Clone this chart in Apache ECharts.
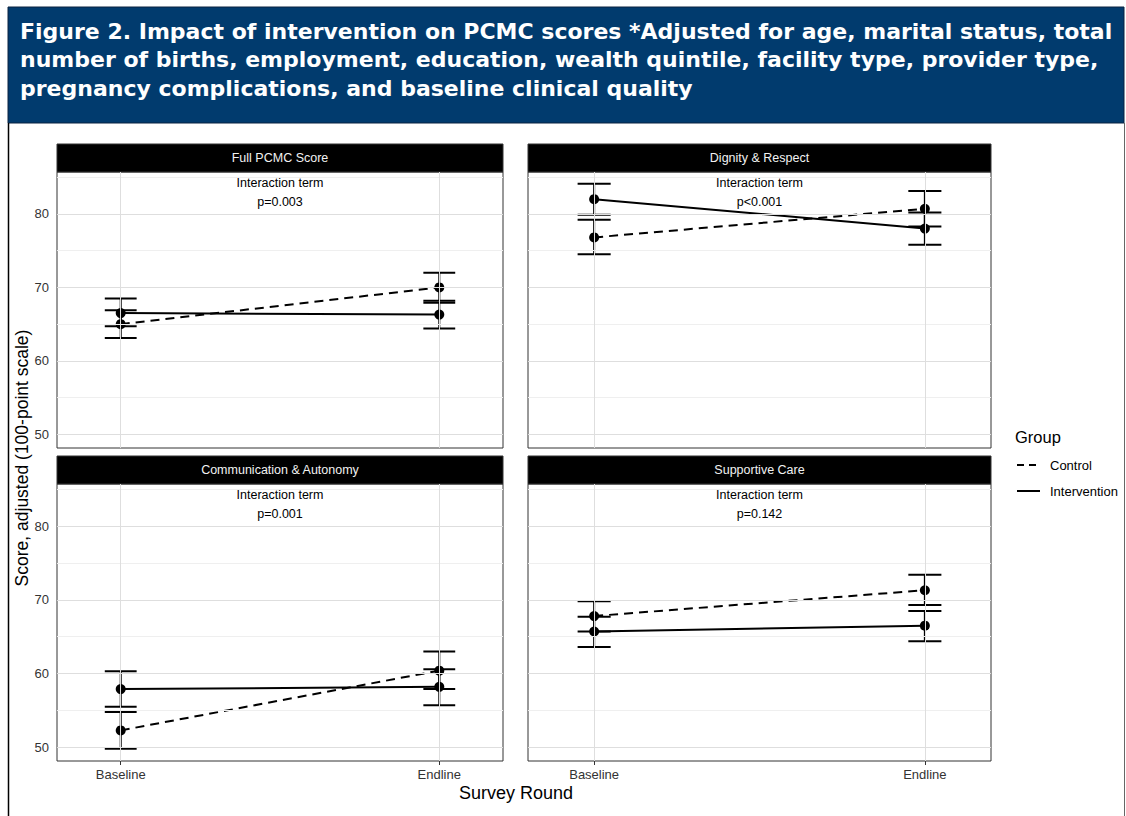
<!DOCTYPE html>
<html>
<head>
<meta charset="utf-8">
<title>Figure 2. Impact of intervention on PCMC scores</title>
<script src="https://cdn.jsdelivr.net/npm/echarts@6/dist/echarts.min.js"></script>
<style>
  html, body { margin: 0; padding: 0; background: #fff; }
  #main { width: 1126px; height: 816px; }
</style>
</head>
<body>
<div id="main"></div>
<script>
// facet data (score, 100-point scale)
const rounds = ['Baseline', 'Endline']
const panelTitles = ['Full PCMC Score', 'Dignity & Respect', 'Communication & Autonomy', 'Supportive Care']
const pValues = ['p=0.003', 'p<0.001', 'p=0.001', 'p=0.142']

const controlMean = [[65.0, 70.0], [76.8, 80.7], [52.3, 60.4], [67.8, 71.3]]
const controlLow = [[63.1, 68.2], [74.5, 78.3], [49.8, 57.9], [65.7, 69.3]]
const controlHigh = [[66.9, 72.0], [79.2, 83.1], [54.8, 63.0], [69.8, 73.4]]

const interventionMean = [[66.5, 66.3], [82.0, 78.0], [57.9, 58.2], [65.7, 66.5]]
const interventionLow = [[64.7, 64.4], [79.9, 75.8], [55.5, 55.7], [63.6, 64.4]]
const interventionHigh = [[68.5, 67.9], [84.1, 80.2], [60.3, 60.6], [67.7, 68.5]]

const yTicks = [50, 60, 70, 80]
const yMinor = [55, 65, 75, 85]

const titleLines = [
  'Figure 2. Impact of intervention on PCMC scores *Adjusted for age, marital status, total',
  'number of births, employment, education, wealth quintile, facility type, provider type,',
  'pregnancy complications, and baseline clinical quality'
]

const FONT = 'Liberation Sans, Arial, Helvetica, sans-serif'

// panel boxes (plot area, strip sits above)
const panels = [
  { left: 57, top: 172, width: 446, height: 276 },
  { left: 528, top: 172, width: 463, height: 276 },
  { left: 57, top: 484, width: 446, height: 277 },
  { left: 528, top: 484, width: 463, height: 277 }
]
const stripH = 28
const capHalf = 0.05

const chart = echarts.init(document.getElementById('main'), null, { renderer: 'svg' })

const grid = []
const xAxis = []
const yAxis = []
const series = []
const graphic = []

// header
graphic.push({
  type: 'rect', silent: true,
  shape: { x: 8, y: 7, width: 1116, height: 116 },
  style: { fill: '#013b6e', stroke: '#0b2340', lineWidth: 1 }
})
titleLines.forEach((t, i) => {
  graphic.push({
    type: 'text', silent: true, x: 20, y: 31 + i * 28.5,
    style: {
      text: t, fill: '#fff', font: 'bold 22px "DejaVu Sans", sans-serif',
      verticalAlign: 'middle', align: 'left'
    }
  })
})
// outer border of figure
graphic.push({
  type: 'polyline', silent: true,
  shape: { points: [[8.5, 123], [8.5, 816]] },
  style: { stroke: '#000', lineWidth: 1.5 }
})
graphic.push({
  type: 'polyline', silent: true,
  shape: { points: [[1124.5, 123], [1124.5, 816]] },
  style: { stroke: '#666', lineWidth: 1 }
})

const errorBar = (params, api) => {
  const x = api.value(0)
  const top = api.coord([x, api.value(2)])
  const bot = api.coord([x, api.value(1)])
  const l = api.coord([x - capHalf, api.value(2)])[0]
  const r = api.coord([x + capHalf, api.value(2)])[0]
  const st = { stroke: '#000', lineWidth: 2 }
  return {
    type: 'group',
    children: [
      { type: 'line', shape: { x1: top[0], y1: top[1], x2: bot[0], y2: bot[1] }, style: st },
      { type: 'line', shape: { x1: l, y1: top[1], x2: r, y2: top[1] }, style: st },
      { type: 'line', shape: { x1: l, y1: bot[1], x2: r, y2: bot[1] }, style: st }
    ]
  }
}

panels.forEach((p, i) => {
  const isLeft = i % 2 === 0
  const isBottom = i >= 2
  grid.push({
    left: p.left, top: p.top, width: p.width, height: p.height,
    show: true, borderColor: '#333', borderWidth: 1, backgroundColor: '#fff'
  })
  xAxis.push({
    type: 'value', gridIndex: i, min: -0.2, max: 1.2,
    axisLine: { show: false },
    splitLine: { show: false },
    axisTick: { show: isBottom, customValues: [0, 1], length: 4, lineStyle: { color: '#333' } },
    axisLabel: {
      show: isBottom, customValues: [0, 1], margin: 7,
      formatter: v => rounds[Math.round(v)] || '',
      color: '#333', fontSize: 13, fontFamily: FONT
    }
  })
  yAxis.push({
    type: 'value', gridIndex: i, min: 48.15, max: 85.7,
    axisLine: { show: false },
    splitLine: { show: false },
    axisTick: { show: isLeft, customValues: yTicks, length: 4, lineStyle: { color: '#333' } },
    axisLabel: {
      show: isLeft, customValues: yTicks, margin: 8,
      color: '#333', fontSize: 13, fontFamily: FONT
    }
  })

  // panel grid lines
  series.push({
    type: 'line', xAxisIndex: i, yAxisIndex: i, data: [], z: 0, silent: true,
    markLine: {
      silent: true, symbol: 'none', animation: false, label: { show: false },
      emphasis: { disabled: true },
      data: [
        ...yMinor.map(v => ({ yAxis: v, lineStyle: { color: '#efefef', width: 1, type: 'solid' } })),
        ...yTicks.map(v => ({ yAxis: v, lineStyle: { color: '#dedede', width: 1, type: 'solid' } })),
        ...[0, 1].map(v => ({ xAxis: v, lineStyle: { color: '#dedede', width: 1, type: 'solid' } }))
      ]
    }
  })

  series.push({
    name: 'Control', type: 'custom', xAxisIndex: i, yAxisIndex: i, z: 2, silent: true,
    renderItem: errorBar,
    data: rounds.map((r, k) => [k, controlLow[i][k], controlHigh[i][k]])
  })
  series.push({
    name: 'Intervention', type: 'custom', xAxisIndex: i, yAxisIndex: i, z: 2, silent: true,
    renderItem: errorBar,
    data: rounds.map((r, k) => [k, interventionLow[i][k], interventionHigh[i][k]])
  })
  series.push({
    name: 'Control', type: 'line', xAxisIndex: i, yAxisIndex: i, z: 3, silent: true,
    symbol: 'circle', symbolSize: 10, animation: false,
    itemStyle: { color: '#000' },
    lineStyle: { color: '#000', width: 2, type: [9, 6] },
    data: rounds.map((r, k) => [k, controlMean[i][k]])
  })
  series.push({
    name: 'Intervention', type: 'line', xAxisIndex: i, yAxisIndex: i, z: 3, silent: true,
    symbol: 'circle', symbolSize: 10, animation: false,
    itemStyle: { color: '#000' },
    lineStyle: { color: '#000', width: 2, type: 'solid' },
    data: rounds.map((r, k) => [k, interventionMean[i][k]])
  })

  // strip
  graphic.push({
    type: 'rect', silent: true,
    shape: { x: p.left, y: p.top - stripH, width: p.width, height: stripH },
    style: { fill: '#000', stroke: '#333', lineWidth: 1 }
  })
  graphic.push({
    type: 'text', silent: true, x: p.left + p.width / 2, y: p.top - stripH / 2,
    style: {
      text: panelTitles[i], fill: '#f2f2f2', font: '12.5px ' + FONT,
      align: 'center', verticalAlign: 'middle'
    }
  })
  // annotation
  graphic.push({
    type: 'text', silent: true, x: p.left + p.width / 2, y: p.top + 11, z: 10,
    style: { text: 'Interaction term', fill: '#000', font: '12.5px ' + FONT, align: 'center', verticalAlign: 'middle' }
  })
  graphic.push({
    type: 'text', silent: true, x: p.left + p.width / 2, y: p.top + 30, z: 10,
    style: { text: pValues[i], fill: '#000', font: '12.5px ' + FONT, align: 'center', verticalAlign: 'middle' }
  })
})

// axis titles
graphic.push({
  type: 'text', silent: true, x: 516, y: 793,
  style: { text: 'Survey Round', fill: '#000', font: '18px ' + FONT, align: 'center', verticalAlign: 'middle' }
})
graphic.push({
  type: 'text', silent: true, x: 22, y: 458, rotation: Math.PI / 2,
  style: { text: 'Score, adjusted (100-point scale)', fill: '#000', font: '17.5px ' + FONT, align: 'center', verticalAlign: 'middle' }
})

// legend
graphic.push({
  type: 'text', silent: true, x: 1015, y: 437,
  style: { text: 'Group', fill: '#000', font: '16.5px ' + FONT, align: 'left', verticalAlign: 'middle' }
})
graphic.push({
  type: 'line', silent: true, shape: { x1: 1017, y1: 465, x2: 1040, y2: 465 },
  style: { stroke: '#000', lineWidth: 2, lineDash: [7, 5] }
})
graphic.push({
  type: 'line', silent: true, shape: { x1: 1017, y1: 491, x2: 1040, y2: 491 },
  style: { stroke: '#000', lineWidth: 2 }
})
graphic.push({
  type: 'text', silent: true, x: 1050, y: 465,
  style: { text: 'Control', fill: '#000', font: '13px ' + FONT, align: 'left', verticalAlign: 'middle' }
})
graphic.push({
  type: 'text', silent: true, x: 1050, y: 491,
  style: { text: 'Intervention', fill: '#000', font: '13px ' + FONT, align: 'left', verticalAlign: 'middle' }
})

const option = {
  backgroundColor: '#fff',
  animation: false,
  grid,
  xAxis,
  yAxis,
  series,
  graphic
}
option && chart.setOption(option)
</script>
</body>
</html>
